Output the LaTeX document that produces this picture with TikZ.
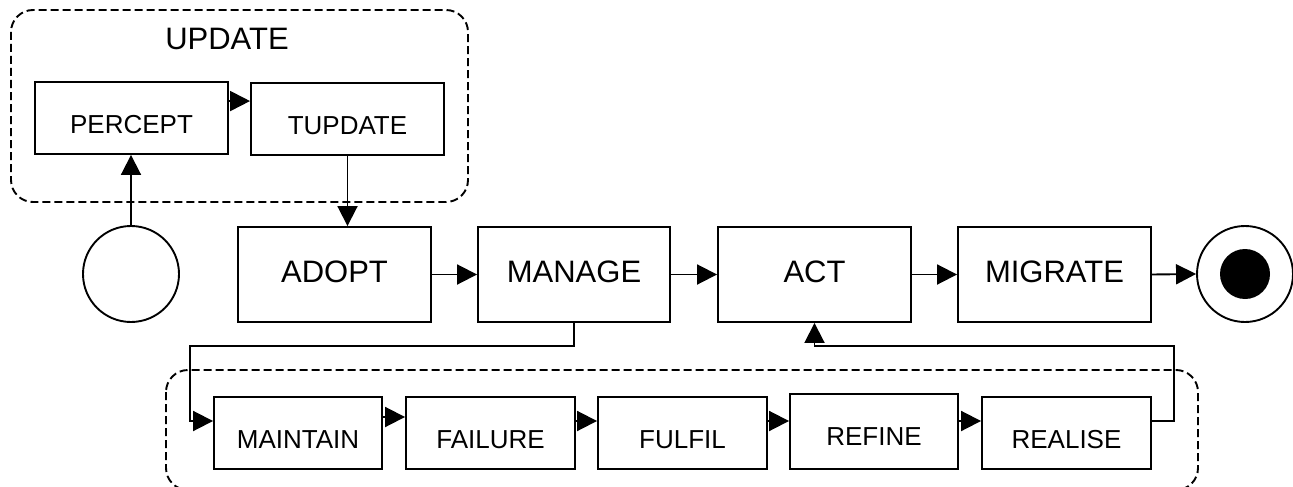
\documentclass[tikz,border=0pt]{standalone}
\usepackage{fontspec}
\setmainfont{Liberation Sans}
\usetikzlibrary{arrows.meta}
\tikzset{
  lw/.style={line width=1.9pt},
  bigbox/.style={draw, lw, rectangle, inner sep=0pt, minimum width=193pt, minimum height=95pt,
    font=\fontsize{31}{31}\selectfont, text height=15pt, text depth=0pt},
  smallbox/.style={draw, lw, rectangle, inner sep=0pt, minimum width=169pt, minimum height=72pt,
    font=\fontsize{26}{26}\selectfont, text height=30pt, text depth=0pt},
  arr/.style={lw, -{Triangle[length=20pt,width=20pt]}},
  groupbox/.style={lw, dash pattern=on 8pt off 4pt, rounded corners=22pt},
  ring/.style={draw, lw, circle, inner sep=0pt, minimum size=96pt},
}
\begin{document}
\begin{tikzpicture}[x=1pt,y=-1pt]
\useasboundingbox (0,0) rectangle (1293,487);
% containers
\draw[groupbox] (11,10) rectangle (468,202);
\node[anchor=base, font=\fontsize{31}{31}\selectfont, inner sep=0pt] (updatetitle) at (227,49) {UPDATE};
\draw[groupbox] (166,370) rectangle (1198,490);

% top group
\node[smallbox, minimum width=193pt] (percept) at (131.5,118) {PERCEPT};
\node[smallbox, minimum width=193pt] (tupdate) at (347.5,119) {TUPDATE};
\node[ring] (start) at (131,274) {};

% main row
\node[bigbox] (adopt) at (334.5,274.5) {ADOPT};
\node[bigbox, minimum width=192pt] (manage) at (574,274.5) {MANAGE};
\node[bigbox] (act) at (814.5,274.5) {ACT};
\node[bigbox] (migrate) at (1054.5,274.5) {MIGRATE};
\node[ring] (final) at (1245,274) {};
\node[circle, fill=black, inner sep=0pt, minimum size=50pt] (finaldot) at (final.center) {};

% bottom row
\node[smallbox, minimum width=168pt] (maintain) at (298,433) {MAINTAIN};
\node[smallbox] (failure) at (490.5,433) {FAILURE};
\node[smallbox] (fulfil) at (682.5,433) {FULFIL};
\node[smallbox, minimum width=168pt, minimum height=75pt, text height=28pt] (refine) at (874,431.5) {REFINE};
\node[smallbox] (realise) at (1066.5,433) {REALISE};

% connectors top
\coordinate (pq) at ([yshift=-20pt]percept.north east);
\draw[arr] (pq) -- (pq -| tupdate.west);
\draw[arr] (start.north) -- (start.north |- percept.south);
\draw[arr] (tupdate.south) -- (tupdate.south |- adopt.north);

% main row connectors
\draw[arr] (adopt.east) -- (manage.west);
\draw[arr] (manage.east) -- (act.west);
\draw[arr] (act.east) -- (migrate.west);
\draw[arr] (migrate.east) -- (final.west);

% manage -> maintain
\coordinate (bendA) at (190,346);
\coordinate (inM) at ([yshift=12pt]maintain.west);
\draw[arr] (manage.south) |- (bendA) |- (inM);

% bottom row connectors
\coordinate (c1) at ([yshift=16pt]maintain.east);
\draw[arr] (c1) -- (c1 -| failure.west);
\coordinate (c2) at ([yshift=12pt]failure.east);
\draw[arr] (c2) -- (c2 -| fulfil.west);
\coordinate (c3) at ([yshift=12pt]fulfil.east);
\draw[arr] (c3) -- (c3 -| refine.west);
\coordinate (c4) at ([yshift=10.5pt]refine.east);
\draw[arr] (c4) -- (c4 -| realise.west);

% realise -> act
\coordinate (outR) at ([yshift=12pt]realise.east);
\coordinate (bendB) at (1174,346);
\draw[arr] (outR) -| (bendB) -| (act.south);
\end{tikzpicture}
\end{document}
